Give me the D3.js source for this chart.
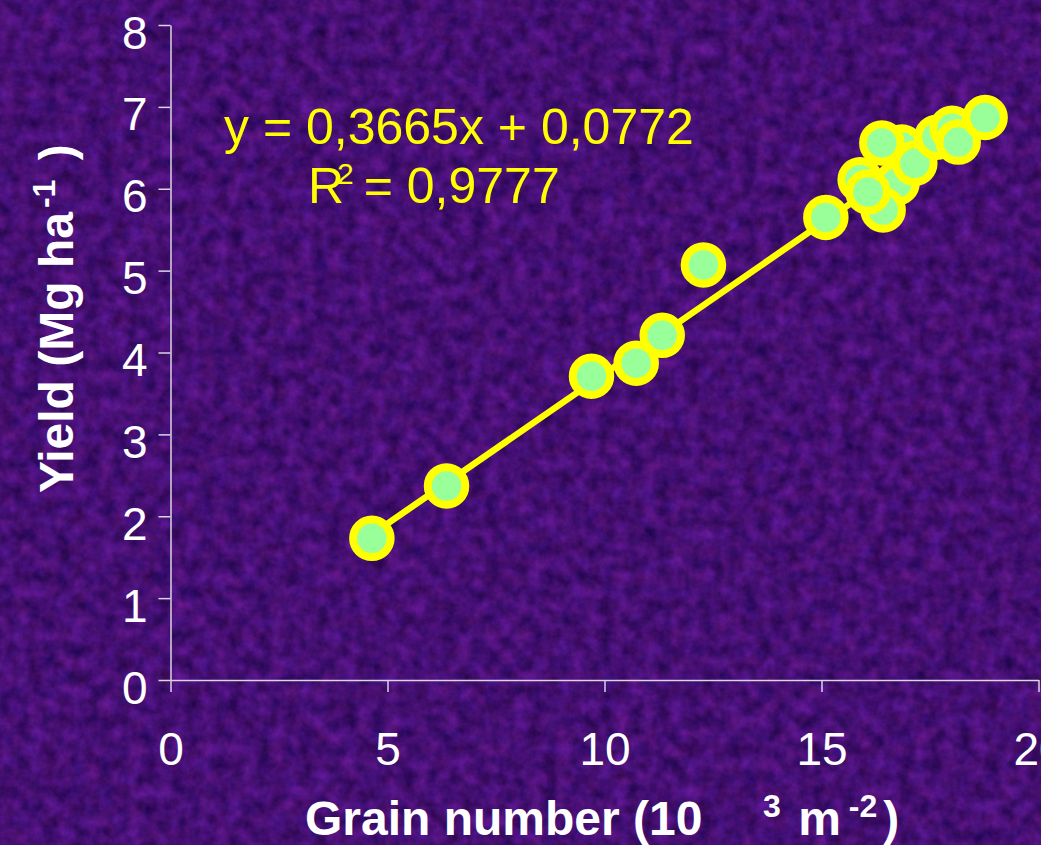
<!DOCTYPE html>
<html>
<head>
<meta charset="utf-8">
<script src="https://cdn.jsdelivr.net/npm/d3@7"></script>
<style>
  body { margin: 0; background: #46127a; }
  svg { display: block; font-family: "Liberation Sans", Arial, sans-serif; }
</style>
</head>
<body>
<div id="chart"></div>
<script>
// grain number (10^3 m-2) and yield (Mg ha-1), in drawing order
const grainNumber = [4.64, 6.36, 9.70, 10.73, 11.33, 12.28,
  15.89, 16.74, 16.85, 17.15, 17.66, 18.01, 16.42, 15.10, 16.07, 16.39, 18.15, 18.77];
const yieldValues = [1.73, 2.37, 3.71, 3.87, 4.21, 5.07,
  6.11, 6.07, 6.51, 6.31, 6.63, 6.74, 5.74, 5.65, 5.96, 6.56, 6.57, 6.87];

const slope = 0.3665;
const intercept = 0.0772;
const xTicks = [0, 5, 10, 15, 20];
const yTicks = [0, 1, 2, 3, 4, 5, 6, 7, 8];

const width = 1041, height = 845;
const margin = { left: 170.5, right: 2.5, top: 25, bottom: 165 };

const svg = d3.select('#chart').append('svg')
  .attr('width', width)
  .attr('height', height);

// textured purple backdrop
const defs = svg.append('defs');
const f = defs.append('filter')
  .attr('id', 'grain')
  .attr('x', 0).attr('y', 0).attr('width', '100%').attr('height', '100%')
  .attr('color-interpolation-filters', 'sRGB');
f.append('feTurbulence')
  .attr('type', 'fractalNoise')
  .attr('baseFrequency', 0.07)
  .attr('numOctaves', 4)
  .attr('seed', 3);
f.append('feColorMatrix')
  .attr('type', 'matrix')
  .attr('values', [
    '0.3 0.1 0 0 0.07',
    '0.1 0 0 0 0.01',
    '0.35 0 0.1 0 0.225',
    '0 0 0 0 1'
  ].join(' '));

svg.append('rect')
  .attr('width', width).attr('height', height)
  .attr('filter', 'url(#grain)');

const x = d3.scaleLinear().domain([0, 20]).range([margin.left, width - margin.right]);
const y = d3.scaleLinear().domain([0, 8]).range([height - margin.bottom, margin.top]);

const axisColor = '#d9d4e6';

const gx = svg.append('g')
  .attr('transform', `translate(0,${y(0)})`)
  .call(d3.axisBottom(x).tickValues(xTicks).tickSize(12).tickSizeOuter(0).tickPadding(40));

const gy = svg.append('g')
  .attr('transform', `translate(${x(0)},0)`)
  .call(d3.axisLeft(y).tickValues(yTicks).tickSize(12).tickSizeOuter(0).tickPadding(11));

[gx, gy].forEach(g => {
  g.select('.domain').attr('stroke', axisColor).attr('stroke-width', 1.5);
  g.selectAll('.tick line').attr('stroke', axisColor).attr('stroke-width', 1.5);
  g.selectAll('.tick text')
    .attr('fill', '#fff')
    .style('font-size', '46px')
    .style('font-family', '"Liberation Sans", Arial, sans-serif');
});
gy.selectAll('.tick text').attr('dy', '0.5em');

// trend line
const xr = d3.extent(grainNumber);
svg.append('line')
  .attr('x1', x(xr[0])).attr('y1', y(slope * xr[0] + intercept))
  .attr('x2', x(xr[1])).attr('y2', y(slope * xr[1] + intercept))
  .attr('stroke', '#ffff00')
  .attr('stroke-width', 6.5)
  .attr('stroke-linecap', 'round');

// points
svg.append('g')
  .selectAll('circle')
  .data(grainNumber.map((g, i) => ({ g, v: yieldValues[i] })))
  .join('circle')
  .attr('cx', d => x(d.g))
  .attr('cy', d => y(d.v))
  .attr('r', 18.75)
  .attr('fill', '#99ff99')
  .attr('stroke', '#ffff00')
  .attr('stroke-width', 8);

// equation
const eq = svg.append('g').attr('fill', '#ffff00').style('font-size', '50px');
eq.append('text')
  .attr('x', 224).attr('y', 144)
  .text('y = 0,3665x + 0,0772');
const r2 = eq.append('text').attr('x', 308).attr('y', 203);
r2.append('tspan').text('R');
r2.append('tspan').attr('dx', -7).attr('dy', -19).style('font-size', '30px').text('2');
r2.append('tspan').attr('dx', -4).attr('dy', 19).text(' = 0,9777');

// axis titles
const xt = svg.append('text')
  .attr('x', 305).attr('y', 835)
  .attr('fill', '#fff')
  .style('font-size', '48px')
  .style('font-weight', 'bold');
xt.append('tspan').text('Grain number (10');
xt.append('tspan').attr('x', 763).attr('dy', -18).style('font-size', '32px').text('3');
xt.append('tspan').attr('dx', 4).attr('dy', 18).text(' m');
xt.append('tspan').attr('dx', 8).attr('dy', -18).style('font-size', '32px').text('-2');
xt.append('tspan').attr('dx', 6).attr('dy', 18).text(')');

const yt = svg.append('text')
  .attr('transform', 'translate(73,493) rotate(-90)')
  .attr('fill', '#fff')
  .style('font-size', '48px')
  .style('font-weight', 'bold');
yt.append('tspan').text('Yield (Mg ha');
yt.append('tspan').attr('dx', 4).attr('dy', -18).style('font-size', '32px').text('-1');
yt.append('tspan').attr('dx', 6).attr('dy', 18).text(' )');
</script>
</body>
</html>
